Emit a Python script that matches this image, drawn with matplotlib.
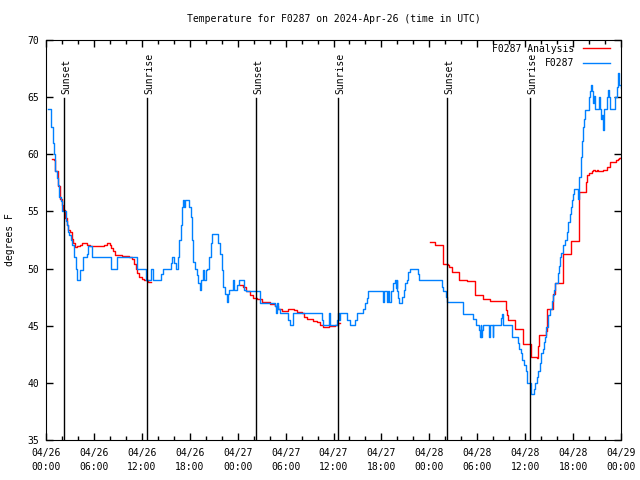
import numpy as np
import matplotlib
matplotlib.use("Agg")
from matplotlib import pyplot as plt

plt.rcParams['font.family'] = ['DejaVu Sans Mono']
plt.rcParams['font.size'] = 7

# hours since 2024-04-26 00:00 UTC
obs_h = [0.25, 0.59, 0.84, 1.0, 1.13, 1.34, 1.5, 1.63, 1.84, 2.05, 2.46, 2.59, 2.75, 2.88,
         3.09, 3.29, 3.5, 3.71, 3.92, 4.26, 4.67, 5.1, 5.26, 5.8, 8.1, 8.93, 11.43, 12.48,
         13.1, 13.36, 14.36, 14.6, 15.6, 15.74, 16.03, 16.28, 16.5, 16.65, 16.87, 17.0, 17.1,
         17.25, 17.37, 17.95, 18.12, 18.24, 18.45, 18.66, 18.87, 19.07, 19.28, 19.4, 19.62,
         19.78, 20.0, 20.2, 20.45, 20.6, 20.79, 21.57, 21.79, 22.0, 22.2, 22.41, 22.63, 22.75,
         22.95, 23.38, 23.54, 23.95, 24.2, 24.8, 25.0, 26.8, 28.68, 28.76, 28.89, 29.09, 29.3,
         30.34, 30.55, 30.97, 34.5, 34.7, 35.4, 35.52, 36.4, 36.55, 36.7, 36.8, 37.65, 37.85,
         38.07, 38.7, 38.9, 39.73, 39.95, 40.16, 40.36, 42.24, 42.36, 42.66, 42.8, 42.99, 43.16,
         43.5, 43.66, 43.8, 43.9, 43.99, 44.11, 44.24, 44.54, 44.83, 44.99, 45.17, 45.37, 45.58,
         46.54, 46.74, 49.59, 49.75, 50.09, 50.25, 52.26, 53.5, 53.84, 54.26, 54.35, 54.43,
         54.51, 54.63, 54.76, 55.47, 55.6, 55.93, 56.0, 56.98, 57.1, 57.2, 58.32, 59.07, 59.23,
         59.44, 59.64, 59.85, 60.07, 60.27, 60.69, 61.1, 61.23, 61.44, 61.64, 61.86, 61.98, 62.2,
         62.36, 62.48, 62.61, 62.9, 63.11, 63.32, 63.52, 63.65, 63.78, 64.07, 64.2, 64.36, 64.52,
         64.77, 64.98, 65.2, 65.4, 65.61, 65.74, 65.9, 66.03, 66.15, 66.58, 66.7, 66.78, 66.96,
         67.08, 67.2, 67.37, 67.53, 67.96, 68.12, 68.25, 68.37, 68.46, 68.62, 68.78, 69.2, 69.37,
         69.5, 69.66, 69.79, 69.87, 70.2, 70.33, 70.46, 70.62, 71.25, 71.46, 71.59, 71.71, 71.79,
         72.0]
obs_t = [64.0, 62.4, 61.0, 60.0, 58.5, 57.9, 57.3, 56.3, 55.9, 55.0, 54.2, 53.8, 53.2, 52.9,
         52.5, 52.1, 51.0, 50.0, 49.0, 49.9, 51.0, 51.3, 52.0, 51.0, 50.0, 51.0, 50.0, 49.0,
         50.0, 49.0, 49.5, 50.0, 50.5, 51.0, 50.5, 50.0, 51.0, 52.5, 53.8, 55.4, 56.0,
         55.4, 56.0, 55.4, 54.5, 52.5, 50.6, 50.0, 49.4, 48.7, 48.1, 49.0, 49.9,
         49.0, 49.9, 50.0, 51.0, 52.2, 53.0, 52.2, 51.3, 49.9, 48.4, 47.8, 47.1, 47.8,
         48.1, 49.0, 48.1, 48.6, 49.0, 48.1, 48.0, 47.0, 46.7, 46.1, 47.0, 46.5, 46.1,
         45.5, 45.1, 46.1, 45.5, 45.1, 46.1, 45.1, 45.5, 46.1, 45.5, 46.1, 45.5, 45.5,
         45.1, 45.5, 46.1, 46.5, 47.0, 47.4, 48.0, 47.1, 48.0, 47.1, 48.0, 47.1, 48.0,
         48.7, 49.0, 48.3, 49.0, 48.0, 47.4, 47.0, 47.5, 48.1, 48.7, 49.0, 49.7, 50.0,
         49.5, 49.0, 48.4, 48.0, 47.5, 47.1, 46.0, 45.6, 45.1, 44.6, 44.0, 45.1,
         44.0, 44.6, 45.1, 44.0, 45.1, 44.0, 45.1, 45.7, 46.0, 45.1, 44.0, 43.5, 43.0,
         42.6, 42.0, 41.6, 41.0, 40.0, 39.0, 39.5, 40.0, 40.5, 41.0, 41.7, 42.6, 43.0,
         43.6, 44.0, 44.9, 45.9, 46.5, 47.2, 47.7, 48.1, 48.7, 49.6, 50.2, 51.0, 51.4,
         52.1, 52.5, 53.2, 54.1, 54.8, 55.4, 56.0, 56.5, 57.0, 56.1, 57.0, 58.0, 59.8,
         61.2, 62.4, 63.1, 63.9, 65.0, 65.5, 66.1, 65.5, 64.5, 65.1, 64.0, 65.0, 64.0,
         63.1, 63.4, 62.1, 64.0, 65.0, 65.6, 65.0, 64.0, 65.0, 65.9, 67.1, 66.5, 66.1,
         65.8]

ana_h = [0.79, 1.0, 1.13, 1.54, 1.75, 1.97, 2.17, 2.38, 2.59, 2.79, 3.0, 3.22, 3.42, 3.63,
         3.92, 4.22, 4.55, 5.17, 5.5, 7.05, 7.26, 7.68, 7.98, 8.18, 8.39, 8.6, 9.55, 10.39,
         10.8, 11.02, 11.23, 11.43, 11.65, 12.06, 12.27, 12.77, 13.02, 13.1,
         24.3, 24.7, 25.1, 25.54, 25.96, 26.38, 27.0, 28.05, 28.68, 29.09, 29.51, 30.34, 31.09,
         31.39, 32.0, 32.34, 32.64, 33.47, 33.9, 34.31, 34.72, 35.44, 36.19, 36.53, 36.69, 36.8,
         48.08, 48.7, 49.75, 50.37, 50.5, 50.8, 51.75, 52.75, 53.76, 54.76, 55.6, 57.6, 57.69,
         57.89, 58.73, 59.69, 59.77, 60.73, 61.44, 61.57, 61.69, 62.61, 62.7, 63.52, 63.74,
         64.7, 65.7, 66.8, 67.62, 67.78, 68.03, 68.33, 68.53, 68.75, 68.95, 69.16, 69.79,
         70.29, 70.62, 71.33, 71.58, 71.79, 72.0]
ana_t = [59.6, 59.5, 58.5, 57.2, 56.1, 55.6, 55.1, 54.4, 53.8, 53.4, 53.2, 52.6, 52.2, 51.9,
         52.0, 52.1, 52.2, 52.1, 52.0, 52.0, 52.1, 52.2, 52.1, 51.8, 51.5, 51.2, 51.1, 51.0,
         50.8, 50.4, 50.0, 49.6, 49.3, 49.1, 49.0, 48.8, 48.8, np.nan,
         48.6, 48.4, 48.0, 47.7, 47.4, 47.3, 47.1, 46.9, 46.7, 46.5, 46.3, 46.5, 46.4,
         46.2, 46.1, 45.8, 45.6, 45.4, 45.3, 45.1, 44.9, 45.0, 45.1, 45.2, 45.2, np.nan,
         52.3, 52.1, 50.4, 50.3, 50.1, 49.7, 49.0, 48.9, 47.7, 47.3, 47.2, 46.4, 45.9,
         45.5, 44.7, 44.0, 43.4, 42.3, 42.2, 43.2, 44.2, 44.5, 46.5, 47.8, 48.7,
         51.3, 52.4, 56.7, 57.6, 58.2, 58.4, 58.5, 58.6, 58.5, 58.6, 58.5, 58.6,
         58.9, 59.3, 59.5, 59.6, 59.7, 59.8]

sun_h = [2.29, 12.68, 26.33, 36.6, 50.25, 60.6]
sun_lbl = ['Sunset', 'Sunrise', 'Sunset', 'Sunrise', 'Sunset', 'Sunrise']

tick_h = list(range(0, 73, 6))
tick_lbl = ['04/26\n00:00', '04/26\n06:00', '04/26\n12:00', '04/26\n18:00',
            '04/27\n00:00', '04/27\n06:00', '04/27\n12:00', '04/27\n18:00',
            '04/28\n00:00', '04/28\n06:00', '04/28\n12:00', '04/28\n18:00',
            '04/29\n00:00']

fig = plt.figure(figsize=(6.4, 4.8), dpi=100)
ax = fig.add_axes([46 / 640, 40 / 480, 575 / 640, 400 / 480])

ax.plot(ana_h, ana_t, color='#ff0000', lw=1, drawstyle='steps-post', label='F0287 Analysis')
ax.plot(obs_h, obs_t, color='#0080ff', lw=1, drawstyle='steps-post', label='F0287')

# sunrise / sunset markers
for h, s in zip(sun_h, sun_lbl):
    ax.plot([h, h], [35, 64.9], color='black', lw=1)
    ax.text(h + 0.25, 65.3, s, rotation=90, ha='center', va='bottom')

ax.set_xlim(0, 72)
ax.set_ylim(35, 70)
ax.set_xticks(tick_h)
ax.set_xticklabels(tick_lbl, linespacing=1.45)
ax.set_xticks(range(0, 73, 2), minor=True)
ax.set_yticks(range(35, 71, 5))
ax.tick_params(direction='in', top=True, right=True, length=5, width=1)
ax.tick_params(which='minor', direction='in', top=True, length=3, width=1)
ax.tick_params(axis='x', pad=6)
ax.tick_params(axis='y', pad=5)
ax.set_ylabel('degrees F')
ax.yaxis.set_label_coords(-0.054, 0.5)
ax.set_title('Temperature for F0287 on 2024-Apr-26 (time in UTC)', fontsize=7, pad=13)

ax.legend(loc='upper right', bbox_to_anchor=(614 / 640, 440 / 480),
          bbox_transform=fig.transFigure, frameon=False, markerfirst=False,
          handlelength=2.8, borderaxespad=0, labelspacing=0.45, handletextpad=0.9)

fig.savefig('out.png', dpi=100)
